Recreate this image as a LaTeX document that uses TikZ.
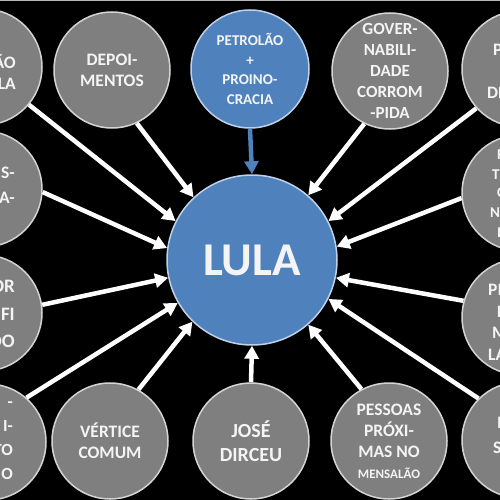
\documentclass[tikz,border=0pt]{standalone}
\usepackage{fontspec}
\setmainfont{Carlito}
\usepackage{tikz}
\usetikzlibrary{arrows.meta}
\definecolor{topicgray}{HTML}{7F7F7F}
\definecolor{ringgray}{HTML}{D4D4D4}
\definecolor{lulablue}{HTML}{4F81BD}
\definecolor{lularing}{HTML}{BFD1E8}
\definecolor{txtwhite}{HTML}{F4F4F4}
\tikzset{
  >=Stealth,
  every node/.append style={text=txtwhite},
}
\tikzset{
  topic/.style={circle, fill=topicgray, draw=ringgray, line width=1.5pt,
                minimum size=116pt, inner sep=0pt, align=center,
                font=\fontsize{17.5}{21}\selectfont\bfseries},
  cut/.style={inner sep=0pt, font=\fontsize{17.5}{21}\selectfont\bfseries},
  feed/.style={-{Triangle[length=13pt,width=14pt]}, line width=4.5pt, white}
}

\begin{document}
\begin{tikzpicture}[
  x=1pt, y=-1pt,
  hub/.style={circle, fill=lulablue, draw=lularing, line width=1.5pt,
              minimum size=170pt, inner sep=0pt,
              font=\fontsize{47}{50}\selectfont\bfseries},
  subhub/.style={circle, fill=lulablue, draw=lularing, line width=1.5pt,
                 minimum size=118pt, inner sep=0pt, align=center,
                 font=\fontsize{15}{19.5}\selectfont\bfseries},
  bluefeed/.style={-{Triangle[length=13pt,width=14pt]}, line width=4.5pt, lulablue}
]
\fill[black] (0,0) rectangle (500,500);
\clip (0,0) rectangle (500,500);
\draw[gray!55, line width=2pt] (0,0) -- (500,0);

% ============= Centre =============
\node[hub] (lula) at (252,260) {LULA};
\node[subhub] (petrolao) at (250,69) {PETROLÃO\\+\\PROINO-\\CRACIA};
\draw[bluefeed] (petrolao.south) -- (lula.north);

% ============= Top row =============
\node[topic] (depo) at (112,70) {DEPOI-\\MENTOS};
\node[topic, font=\fontsize{17}{21}\selectfont\bfseries] (govern) at (390,71)
      {GOVER-\\NABILI-\\DADE\\CORROM\\-PIDA};

% ============= Left column (cut off) =============
\node[topic] (tl) at (-16,67) {};
\node[cut, align=right, anchor=east] (tltext) at (16,72) {ÃO\\LA};
\node[topic] (lmid) at (-16,189) {};
\node[cut, align=right, anchor=east, font=\fontsize{17.5}{25}\selectfont\bfseries]
      (lmidtext) at (15,185) {S-\\A-};
\node[topic] (llow) at (-16,313) {};
\node[cut, align=right, anchor=east, font=\fontsize{19}{27.5}\selectfont\bfseries]
      (llowtext) at (15,314) {OR\\FI\\DO};
\node[topic] (bl) at (-12,442) {};
\node[cut, align=right, anchor=east, font=\fontsize{17}{24}\selectfont\bfseries]
      (bltext) at (13,441) {-\\I-\\TO\\O};

% ============= Right column (cut off) =============
\node[topic] (tr) at (520,69) {};
\node[cut, anchor=west] (tra) at (493,50) {P};
\node[cut, anchor=west] (trb) at (487,93) {DE};
\node[topic] (rmid) at (520,193) {};
\node[cut, anchor=west, font=\fontsize{15}{19}\selectfont\bfseries] (rmida) at (497,155) {P};
\node[cut, anchor=west, font=\fontsize{15}{19}\selectfont\bfseries] (rmidb) at (492,175) {T};
\node[cut, anchor=west, font=\fontsize{15}{19}\selectfont\bfseries] (rmidc) at (497,193) {C};
\node[cut, anchor=west, font=\fontsize{15}{19}\selectfont\bfseries] (rmidd) at (490,213) {NC};
\node[cut, anchor=west, font=\fontsize{15}{19}\selectfont\bfseries] (rmide) at (497,233) {I};
\node[topic] (rlow) at (520,317) {};
\node[cut, anchor=west] (rlowa) at (488,290) {PI};
\node[cut, anchor=west] (rlowb) at (497,312) {F};
\node[cut, anchor=west] (rlowc) at (492,333) {M};
\node[cut, anchor=west] (rlowd) at (488,355) {LA};
\node[topic] (br) at (520,440) {};
\node[cut, anchor=west] (bra) at (497,423) {I};
\node[cut, anchor=west] (brb) at (493,448) {S};

% ============= Bottom row =============
\node[topic] (vertice) at (110,441) {VÉRTICE\\COMUM};
\node[topic, font=\fontsize{20}{24}\selectfont\bfseries] (jose) at (251,441) {JOSÉ\\DIRCEU};
\node[topic] (pessoas) at (389,441)
      {PESSOAS\\PRÓXI-\\MAS NO\\{\fontsize{13}{16}\selectfont MENSALÃO}};

% ============= Arrows into LULA =============
\draw[feed] (tl.-40) -- (lula.153);
\draw[feed] (depo.-65) -- (lula.133);
\draw[feed] (lmid.-3) -- (lula.172);
\draw[feed] (llow.8) -- (lula.192);
\draw[feed] (bl.49) -- (lula.210);
\draw[feed] (vertice.61) -- (lula.226);
\draw[feed] (jose.north) -- (lula.south);
\draw[feed] (pessoas.118) -- (lula.311);
\draw[feed] (br.135) -- (lula.333);
\draw[feed] (rlow.164) -- (lula.348);
\draw[feed] (rmid.185) -- (lula.9);
\draw[feed] (tr.222) -- (lula.27);
\draw[feed] (govern.244) -- (lula.49);

\end{tikzpicture}
\end{document}
